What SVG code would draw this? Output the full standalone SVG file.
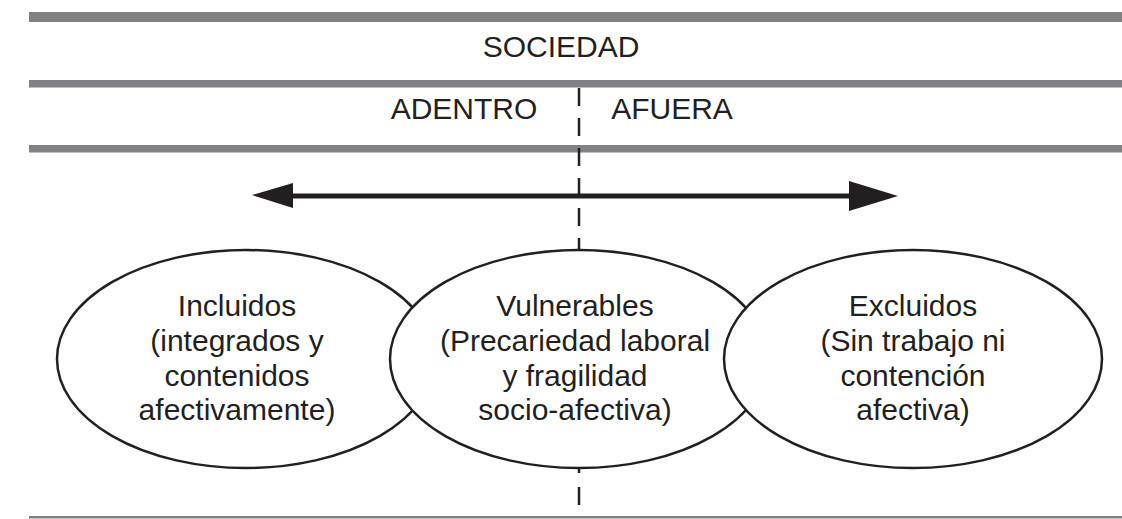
<svg xmlns="http://www.w3.org/2000/svg" width="1122" height="519" viewBox="0 0 1122 519">
<style>
.bar{fill:#808184}
.t{font-family:"Liberation Sans",Arial,sans-serif;font-size:30px;fill:#231f20;text-anchor:middle}
.el{fill:#fff;stroke:#231f20;stroke-width:2.5}
.dash{stroke:#231f20;stroke-width:2.5;fill:none}
</style>
<rect width="1122" height="519" fill="#fff"/>
<g id="bands">
<rect class="bar" x="29" y="12" width="1093" height="10"/>
<rect class="bar" x="29" y="80" width="1093" height="7.5"/>
<rect class="bar" x="29" y="145" width="1093" height="7.5"/>
<rect class="bar" x="29" y="516" width="1093" height="2.5"/>
</g>
<g id="labels">
<text class="t" x="561" y="57">SOCIEDAD</text>
<text class="t" x="464" y="119">ADENTRO</text>
<text class="t" x="672" y="119">AFUERA</text>
</g>
<g id="connectors">
<line class="dash" x1="579" y1="88" x2="579" y2="252" stroke-dasharray="18 12"/>
<line class="dash" x1="579" y1="468" x2="579" y2="506" stroke-dasharray="5 14 18 20"/>
<line x1="290" y1="196" x2="852" y2="196" stroke="#231f20" stroke-width="5"/>
<polygon points="252,195 293,183 293,208" fill="#231f20"/>
<polygon points="898,196 849,181 849,211" fill="#231f20"/>
</g>
<g id="incluidos">
<ellipse class="el" cx="246" cy="359" rx="189" ry="109"/>
<text class="t" x="237" y="316">Incluidos</text>
<text class="t" x="237" y="351">(integrados y</text>
<text class="t" x="237" y="386">contenidos</text>
<text class="t" x="237" y="420">afectivamente)</text>
</g>
<g id="vulnerables">
<ellipse class="el" cx="579" cy="359" rx="189" ry="109"/>
<text class="t" x="575" y="316">Vulnerables</text>
<text class="t" x="575" y="351">(Precariedad laboral</text>
<text class="t" x="575" y="386">y fragilidad</text>
<text class="t" x="575" y="420">socio-afectiva)</text>
</g>
<g id="excluidos">
<ellipse class="el" cx="913" cy="359" rx="189" ry="109"/>
<text class="t" x="913" y="316">Excluidos</text>
<text class="t" x="913" y="351">(Sin trabajo ni</text>
<text class="t" x="913" y="386">contención</text>
<text class="t" x="913" y="420">afectiva)</text>
</g>
</svg>
